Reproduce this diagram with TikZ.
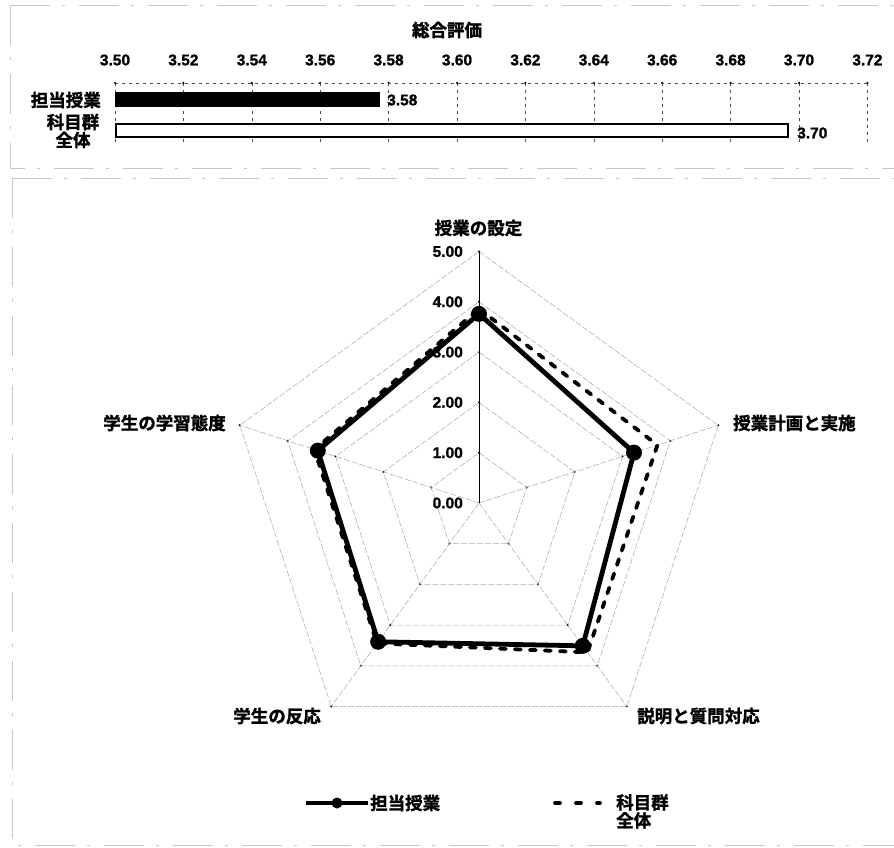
\documentclass[tikz,border=0pt]{standalone}
\usepackage{fontspec}
\setmainfont{Noto Sans CJK JP}[BoldFont=* Bold, BoldFeatures={FakeBold=1.6}]
\newfontfamily\numfont{Liberation Sans}[BoldFont=* Bold, BoldFeatures={FakeBold=1.2}]
\tikzset{
  jp/.style={font=\fontsize{17.5}{19}\selectfont\bfseries, inner sep=0pt},
  num/.style={font=\fontsize{15.5}{17}\selectfont\numfont\bfseries, inner sep=0pt},
  frameline/.style={gray!45, line width=0.6pt, dash pattern=on 40pt off 12pt on 3pt off 14pt},
  gridv/.style={black!70, line width=0.5pt, dash pattern=on 3pt off 4pt},
  rgrid/.style={gray!70, line width=0.5pt, dash pattern=on 6pt off 2pt},
  tickdot/.style={fill=black, circle, inner sep=0pt, minimum size=2.5pt},
  solidser/.style={black, line width=4.8pt, line join=round},
  dashser/.style={black, line width=3.8pt, dash pattern=on 6pt off 9pt, line cap=round},
  mk/.style={circle, fill=black, inner sep=0pt, minimum size=16pt},
}
\begin{document}
\begin{tikzpicture}[x=1pt,y=-1pt]
\useasboundingbox (0,0) rectangle (894,848);
% frame fragments
\draw[frameline] (10,5) -- (894,5);
\draw[frameline] (10,5) -- (10,168) -- (894,168);
\draw[frameline] (12,178) -- (894,178);
\draw[frameline] (12,178) -- (12,845) -- (894,845);

% ===== bar chart =====
\node[jp] (title) at (447,30) {総合評価};
\foreach \i/\lab in {0/3.50,1/3.52,2/3.54,3/3.56,4/3.58,5/3.60,6/3.62,7/3.64,8/3.66,9/3.68,10/3.70,11/3.72}{
  \node[num] (t\i) at ({115+\i*68.4},60) {\lab};
  \draw[gridv] ({115+\i*68.4},83) -- ({115+\i*68.4},145);
  \node[tickdot] (td\i) at ({115+\i*68.4},83) {};
}
\draw[gridv] (115,83) -- (867.4,83);
\node[draw=black, fill=black, line width=1pt, inner sep=0pt, minimum width=264pt, minimum height=14pt, anchor=west] (bar1) at (115,100) {};
\node[draw=black, fill=white, line width=2.4pt, inner sep=0pt, minimum width=672pt, minimum height=13pt, anchor=west] (bar2) at (115,130.5) {};
\node[num, anchor=west] (v1) at ([xshift=7pt]bar1.east) {3.58};
\node[num, anchor=west] (v2) at (797,133) {3.70};
\node[jp, anchor=east] (c1) at (101,100) {担当授業};
\node[jp, align=center] (c2) at (73,131) {科目群\\[-1pt]全体};

% ===== radar =====
\begin{scope}[shift={(479,503)}]
  \coordinate (C) at (0,0);
  \def\u{50.3pt}
  % rings
  \foreach \r in {1,...,5}{
    \draw[rgrid] (90:\r*\u) -- (18:\r*\u) -- (-54:\r*\u) -- (-126:\r*\u) -- (162:\r*\u) -- cycle;
    \foreach \a in {90,18,-54,-126,162}{
      \node[tickdot, minimum size=2.2pt] at (\a:\r*\u) {};
    }
  }
  % spokes
  \foreach \a in {18,-54,-126,162}{
    \draw[rgrid] (C) -- (\a:5*\u);
  }
  \draw[black, line width=0.6pt] (C) -- (90:5*\u);
  % axis labels
  \foreach \r in {0,...,5}{
    \node[num, anchor=east] (ax\r) at ([shift={(-16pt,0pt)}]90:\r*\u) {\r.00};
  }
  % dashed series
  \draw[dashser] (90:3.86*\u) -- (18:3.73*\u) -- (-54:3.67*\u) -- (-126:3.45*\u) -- (162:3.44*\u) -- cycle;
  % solid series
  \draw[solidser] (90:3.76*\u) -- (18:3.24*\u) -- (-54:3.51*\u) -- (-126:3.41*\u) -- (162:3.37*\u) -- cycle;
  \node[mk] (p1) at (90:3.76*\u) {};
  \node[mk] (p2) at (18:3.24*\u) {};
  \node[mk] (p3) at (-54:3.51*\u) {};
  \node[mk] (p4) at (-126:3.41*\u) {};
  \node[mk] (p5) at (162:3.37*\u) {};
\end{scope}
\node[jp] (l1) at (478.5,228) {授業の設定};
\node[jp, anchor=west] (l2) at (733,423) {授業計画と実施};
\node[jp, anchor=west] (l3) at (637,716) {説明と質問対応};
\node[jp, anchor=east] (l4) at (321,716) {学生の反応};
\node[jp, anchor=east] (l5) at (226,423) {学生の学習態度};

% ===== legend =====
\coordinate (ls1) at (306,803);
\coordinate (ls2) at (368,803);
\draw[black, line width=4.8pt] (ls1) -- (ls2);
\node[mk, minimum size=11pt] (lm) at (337,803) {};
\node[jp, anchor=west] (lt1) at (370,803) {担当授業};
\coordinate (ld1) at (555,803);
\coordinate (ld2) at (600,803);
\draw[dashser, dash pattern=on 5pt off 16pt] (ld1) -- (ld2);
\node[jp, anchor=north west, align=left] (lt2) at (616,794) {科目群\\[-1pt]全体};
\end{tikzpicture}
\end{document}
